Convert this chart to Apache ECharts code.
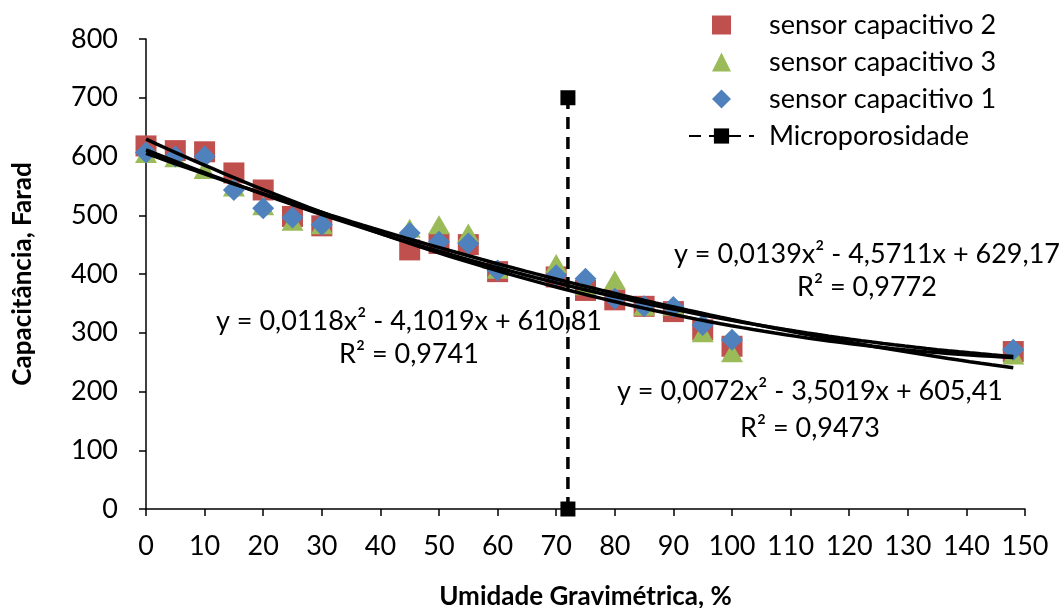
<!DOCTYPE html>
<html>
<head>
<meta charset="utf-8">
<script src="https://cdn.jsdelivr.net/npm/echarts@6/dist/echarts.min.js"></script>
<style>html,body{margin:0;padding:0;background:#fff;}#c{width:1064px;height:608px;}</style>
</head>
<body>
<div id="c"></div>
<script>
const xValues = [0, 5, 10, 15, 20, 25, 30, 45, 50, 55, 60, 70, 75, 80, 85, 90, 95, 100, 148];
const sensor2 = [618, 610, 608, 572, 543, 498, 482, 441, 452, 450, 404, 395, 372, 356, 345, 336, 305, 277, 268];
const sensor3 = [605, 598, 578, 548, 516, 490, 484, 478, 484, 470, 408, 418, 380, 390, 345, 345, 300, 266, 262];
const sensor1 = [607, 600, 600, 543, 512, 496, 484, 470, 455, 452, 406, 398, 392, 358, 345, 344, 313, 288, 271];
const microX = [72, 72];
const microY = [0, 700];
const seriesNames = ['sensor capacitivo 2', 'sensor capacitivo 3', 'sensor capacitivo 1', 'Microporosidade'];
const eqLabels = [
  ['y = 0,0139x² - 4,5711x + 629,17', 'R² = 0,9772'],
  ['y = 0,0118x² - 4,1019x + 610,81', 'R² = 0,9741'],
  ['y = 0,0072x² - 3,5019x + 605,41', 'R² = 0,9473']
];

// least-squares 2nd-order polynomial fit (Excel trendline)
function polyfit2(xs, ys) {
  let S = [0,0,0,0,0], T = [0,0,0];
  for (let i = 0; i < xs.length; i++) {
    const x = xs[i], y = ys[i];
    let p = 1;
    for (let k = 0; k < 5; k++) { S[k] += p; p *= x; }
    T[0] += y; T[1] += y * x; T[2] += y * x * x;
  }
  const A = [[S[0], S[1], S[2], T[0]], [S[1], S[2], S[3], T[1]], [S[2], S[3], S[4], T[2]]];
  for (let i = 0; i < 3; i++) {
    for (let j = i + 1; j < 3; j++) {
      const f = A[j][i] / A[i][i];
      for (let k = i; k < 4; k++) A[j][k] -= f * A[i][k];
    }
  }
  const c = [0,0,0];
  for (let i = 2; i >= 0; i--) {
    let s = A[i][3];
    for (let k = i + 1; k < 3; k++) s -= A[i][k] * c[k];
    c[i] = s / A[i][i];
  }
  return c; // c0 + c1 x + c2 x^2
}
function trend(ys) {
  const c = polyfit2(xValues, ys);
  const out = [];
  const x0 = xValues[0], x1 = xValues[xValues.length - 1];
  const n = 80;
  for (let i = 0; i <= n; i++) {
    const x = x0 + (x1 - x0) * i / n;
    out.push([x, c[0] + c[1] * x + c[2] * x * x]);
  }
  return out;
}
const pairs = ys => xValues.map((x, i) => [x, ys[i]]);

const FONT = 'Lato';
const FS = 27;
const chart = echarts.init(document.getElementById('c'), null, { renderer: 'canvas' });

const trendStyle = { color: '#000', width: 3.5 };
const eqGraphics = [];
const eqPos = [[867, 254, 287], [409, 321, 354], [810, 391, 428]];
eqLabels.forEach((lab, i) => {
  const p = eqPos[i];
  eqGraphics.push({ type: 'text', x: p[0], y: p[1], z: 100,
    style: { text: lab[0], font: FS + 'px ' + FONT, fill: '#000', align: 'center', verticalAlign: 'middle' } });
  eqGraphics.push({ type: 'text', x: p[0], y: p[2], z: 100,
    style: { text: lab[1], font: FS + 'px ' + FONT, fill: '#000', align: 'center', verticalAlign: 'middle' } });
});

chart.setOption({
  animation: false,
  backgroundColor: '#fff',
  textStyle: { fontFamily: FONT },
  grid: { left: 146, right: 39, top: 39, bottom: 99, outerBoundsMode: 'none', containLabel: false },
  legend: {
    orient: 'vertical',
    left: 683, top: 5,
    itemWidth: 65, itemHeight: 19, itemGap: 7,
    textStyle: { fontSize: FS, color: '#000', fontFamily: FONT, lineHeight: 30, padding: [0, 0, 0, 10] },
    data: [
      { name: seriesNames[0], icon: 'path://M0,0L1,0L1,1L0,1Z' },
      { name: seriesNames[1], icon: 'path://M0.5,0L1,1L0,1Z' },
      { name: seriesNames[2], icon: 'path://M0.5,0L1,0.5L0.5,1L0,0.5Z' },
      { name: seriesNames[3] }
    ]
  },
  xAxis: {
    type: 'value', min: 0, max: 150, interval: 10,
    name: 'Umidade Gravimétrica, %', nameLocation: 'middle', nameGap: 75,
    nameTextStyle: { fontSize: 26, fontWeight: 'bold', color: '#000', fontFamily: FONT },
    axisLine: { show: true, lineStyle: { color: '#000', width: 1.5 } },
    axisTick: { show: true, length: 7, lineStyle: { color: '#000', width: 1.5 } },
    axisLabel: { fontSize: FS, color: '#000', margin: 24, fontFamily: FONT },
    splitLine: { show: false }
  },
  yAxis: {
    type: 'value', min: 0, max: 800, interval: 100,
    name: 'Capacitância, Farad', nameLocation: 'middle', nameGap: 110, nameRotate: 90,
    nameTextStyle: { fontSize: 26, fontWeight: 'bold', color: '#000', fontFamily: FONT },
    axisLine: { show: true, lineStyle: { color: '#000', width: 1.5 } },
    axisTick: { show: true, length: 7, lineStyle: { color: '#000', width: 1.5 } },
    axisLabel: { fontSize: FS, color: '#000', margin: 28, fontFamily: FONT },
    splitLine: { show: false }
  },
  series: [
    { name: seriesNames[0], type: 'scatter', symbol: 'rect', symbolSize: 21, z: 2,
      itemStyle: { color: '#C0504D', opacity: 1 }, data: pairs(sensor2) },
    { name: seriesNames[1], type: 'scatter', symbol: 'triangle', symbolSize: [22, 19], z: 3,
      itemStyle: { color: '#9BBB59', opacity: 1 }, data: pairs(sensor3) },
    { name: seriesNames[2], type: 'scatter', symbol: 'diamond', symbolSize: 22, z: 4,
      itemStyle: { color: '#4F81BD', opacity: 1 }, data: pairs(sensor1) },
    { name: 't2', type: 'line', showSymbol: false, symbol: 'none', z: 5,
      lineStyle: trendStyle, data: trend(sensor2) },
    { name: 't3', type: 'line', showSymbol: false, symbol: 'none', z: 5,
      lineStyle: trendStyle, data: trend(sensor3) },
    { name: 't1', type: 'line', showSymbol: false, symbol: 'none', z: 5,
      lineStyle: trendStyle, data: trend(sensor1) },
    { name: seriesNames[3], type: 'line', symbol: 'rect', symbolSize: 15, z: 6,
      itemStyle: { color: '#000' },
      lineStyle: { color: '#000', width: 3.5, type: [12, 8] },
      data: microX.map((x, i) => [x, microY[i]]) }
  ],
  graphic: eqGraphics
});
</script>
</body>
</html>
